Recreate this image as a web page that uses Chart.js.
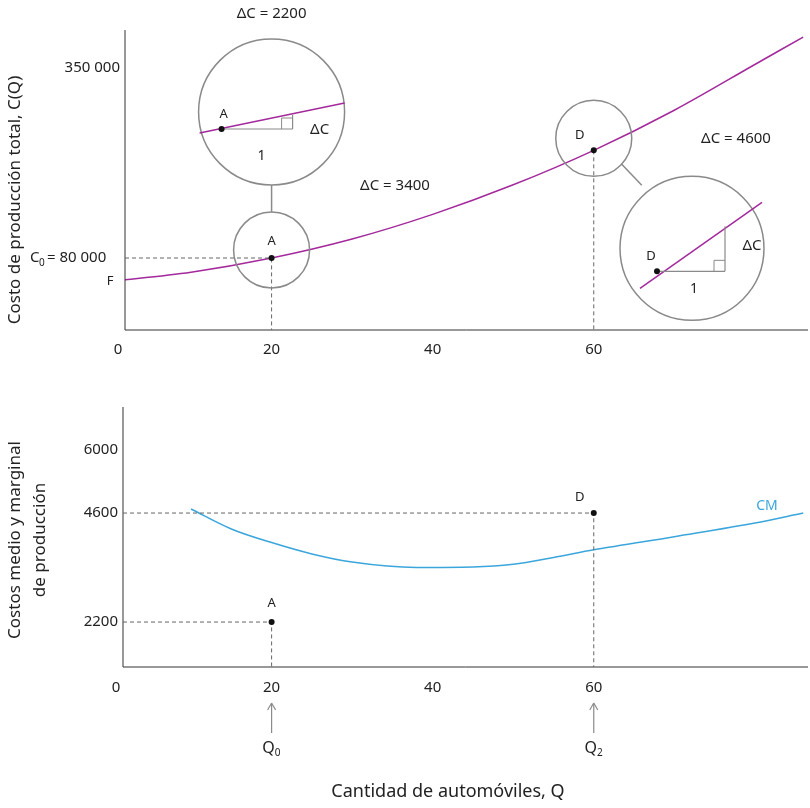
<!DOCTYPE html>
<html><head><meta charset="utf-8">
<script src="https://cdn.jsdelivr.net/npm/chart.js@4/dist/chart.umd.min.js"></script>
<style>body{margin:0;background:#fff}canvas{position:absolute;left:0}</style>
</head><body>
<canvas id="c1" width="810" height="400" style="top:0"></canvas>
<canvas id="c2" width="810" height="408" style="top:400px"></canvas>
<script>
const qTotal=[0,10,20,30,40,50,60,70,80,86];
const costTotal=[47000,59900,80000,107000,142000,184000,233000,290000,355000,394000];
const qAvg=[10,15,20,25,30,38,45,50,55,60,70,80,86];
const costAvg=[4690,4250,3950,3700,3520,3400,3410,3470,3620,3790,4080,4380,4600];
const pointsTop=[{q:20,c:80000,l:'A'},{q:60,c:233000,l:'D'}];
const pointsBottom=[{q:20,c:2200,l:'A'},{q:60,c:4600,l:'D'}];
const xTicks=[0,20,40,60];
const yTicksTop=[350000,80000];
const yTicksBottom=[6000,4600,2200];
const PURPLE='#a3299c',BLUE='#3ba6dc',GRAY='#8a8a8a',TXT='#222';
const F="'Noto Sans', sans-serif";
function txt(ctx,s,x,y,al,size){ctx.fillStyle=TXT;ctx.font=(size||15)+'px '+F;ctx.textAlign=al||'center';ctx.textBaseline='middle';ctx.fillText(s,x,y);}
function dashed(ctx,pts){ctx.save();ctx.strokeStyle='#666';ctx.lineWidth=1;ctx.setLineDash([4,3]);ctx.beginPath();ctx.moveTo(pts[0][0],pts[0][1]);for(let i=1;i<pts.length;i++)ctx.lineTo(pts[i][0],pts[i][1]);ctx.stroke();ctx.restore();}
function circ(ctx,x,y,r){ctx.save();ctx.strokeStyle=GRAY;ctx.lineWidth=1.5;ctx.beginPath();ctx.arc(x,y,r,0,Math.PI*2);ctx.stroke();ctx.restore();}
function line(ctx,a,b,c,w){ctx.save();ctx.strokeStyle=c;ctx.lineWidth=w||1.3;ctx.beginPath();ctx.moveTo(a[0],a[1]);ctx.lineTo(b[0],b[1]);ctx.stroke();ctx.restore();}
function dot(ctx,x,y){ctx.fillStyle='#111';ctx.beginPath();ctx.arc(x,y,3,0,Math.PI*2);ctx.fill();}
function axes(ctx,ch,ty){const a=ch.chartArea,xs=ch.scales.x;ctx.save();ctx.strokeStyle='#333';ctx.lineWidth=1;ctx.beginPath();ctx.moveTo(a.left,a.top);ctx.lineTo(a.left,a.bottom);ctx.lineTo(a.right,a.bottom);ctx.stroke();ctx.restore();
 xTicks.forEach(v=>{const x=v===0?a.left-7:xs.getPixelForValue(v);txt(ctx,String(v),x,a.bottom+ty);});}
const topPlugin={id:'top',afterDatasetsDraw(ch){const ctx=ch.ctx,a=ch.chartArea,xs=ch.scales.x,ys=ch.scales.y;
 axes(ctx,ch,20);
 txt(ctx,'350 000',a.left-5,ys.getPixelForValue(350000),'right');
 const ay=ys.getPixelForValue(80000),ax=xs.getPixelForValue(20);
 txt(ctx,'C',a.left-95,ay,'left');txt(ctx,'0',a.left-86,ay+5,'left',10);txt(ctx,'= 80 000',a.left-78,ay,'left');
 txt(ctx,'F',a.left-15,ys.getPixelForValue(costTotal[0]),'center',13);
 dashed(ctx,[[a.left,ay],[ax,ay],[ax,a.bottom]]);
 const dx=xs.getPixelForValue(60),dy=ys.getPixelForValue(233000);
 dashed(ctx,[[dx,dy],[dx,a.bottom]]);
 circ(ctx,ax,ay-8,38);line(ctx,[ax,ay-46],[ax,ay-73],GRAY,1.5);
 const bx=ax,by=ay-146;circ(ctx,bx,by,73);
 line(ctx,[bx-72,by+21],[bx+73,by-9],PURPLE,1.5);
 line(ctx,[bx-50,by+17],[bx+21,by+17],GRAY,1.2);line(ctx,[bx+21,by+17],[bx+21,by+3],GRAY,1.2);
 line(ctx,[bx+10,by+17],[bx+10,by+6],GRAY,1);line(ctx,[bx+10,by+6],[bx+21,by+6],GRAY,1);
 dot(ctx,bx-50,by+17);txt(ctx,'A',bx-48,by+2,'center',13);txt(ctx,'ΔC',bx+48,by+18);txt(ctx,'1',bx-10,by+44,'center',14);
 txt(ctx,'ΔC = 2200',bx,14);
 txt(ctx,'A',ax,ay-17,'center',13);
 txt(ctx,'ΔC = 3400',395,186);
 circ(ctx,dx,dy-12,38);line(ctx,[dx+28,dy+14],[dx+48,dy+35],GRAY,1.5);
 const ex=692,ey=dy+98;circ(ctx,ex,ey,72);
 line(ctx,[ex-52,ey+40],[ex+70,ey-46],PURPLE,1.5);
 line(ctx,[ex-35,ey+23],[ex+33,ey+23],GRAY,1.2);line(ctx,[ex+33,ey+23],[ex+33,ey-22],GRAY,1.2);
 line(ctx,[ex+22,ey+23],[ex+22,ey+12],GRAY,1);line(ctx,[ex+22,ey+12],[ex+33,ey+12],GRAY,1);
 dot(ctx,ex-35,ey+23);txt(ctx,'D',ex-41,ey+8,'center',13);txt(ctx,'ΔC',ex+60,ey-3);txt(ctx,'1',ex+2,ey+41,'center',14);
 txt(ctx,'ΔC = 4600',736,139);
 txt(ctx,'D',dx-14,dy-15,'center',13);
 pointsTop.forEach(p=>dot(ctx,xs.getPixelForValue(p.q),ys.getPixelForValue(p.c)));
 ctx.save();ctx.translate(15,200);ctx.rotate(-Math.PI/2);txt(ctx,'Costo de producción total, C(Q)',0,0,'center',17);ctx.restore();
}};
const botPlugin={id:'bot',afterDatasetsDraw(ch){const ctx=ch.ctx,a=ch.chartArea,xs=ch.scales.x,ys=ch.scales.y;
 axes(ctx,ch,21);
 yTicksBottom.forEach(v=>txt(ctx,String(v),a.left-5,ys.getPixelForValue(v),'right'));
 pointsBottom.forEach(p=>{const x=xs.getPixelForValue(p.q),y=ys.getPixelForValue(p.c);dashed(ctx,[[a.left,y],[x,y],[x,a.bottom]]);dot(ctx,x,y);});
 txt(ctx,'A',xs.getPixelForValue(20),ys.getPixelForValue(2200)-19,'center',13);
 txt(ctx,'D',xs.getPixelForValue(60)-14,ys.getPixelForValue(4600)-16,'center',13);
 ctx.fillStyle=BLUE;ctx.font='14px '+F;ctx.textAlign='center';ctx.fillText('CM',767,106);
 [[20,'Q','0'],[60,'Q','2']].forEach(([q,s,sub])=>{const x=xs.getPixelForValue(q);
  line(ctx,[x,333],[x,304],GRAY,1.2);line(ctx,[x-4,310],[x,303],GRAY,1.2);line(ctx,[x+4,310],[x,303],GRAY,1.2);
  txt(ctx,s,x-3,348,'center',16);txt(ctx,sub,x+6,353,'center',10);});
 txt(ctx,'Cantidad de automóviles, Q',448,392,'center',18);
 ctx.save();ctx.translate(15,140);ctx.rotate(-Math.PI/2);txt(ctx,'Costos medio y marginal',0,0,'center',17);txt(ctx,'de producción',0,25,'center',17);ctx.restore();
}};
const xMax=86.6;
new Chart(document.getElementById('c1'),{type:'line',
 data:{datasets:[{data:qTotal.map((q,i)=>({x:q,y:costTotal[i]})),borderColor:PURPLE,borderWidth:1.5,pointRadius:0,cubicInterpolationMode:'monotone'}]},
 options:{responsive:false,animation:false,layout:{padding:{left:125,right:2,top:30,bottom:70}},plugins:{legend:{display:false},tooltip:{enabled:false}},
 scales:{x:{type:'linear',min:1.8,max:xMax,display:false},y:{min:-22300,max:404000,display:false}}},plugins:[topPlugin]});
new Chart(document.getElementById('c2'),{type:'line',
 data:{datasets:[{data:qAvg.map((q,i)=>({x:q,y:costAvg[i]})),borderColor:BLUE,borderWidth:1.5,pointRadius:0,cubicInterpolationMode:'monotone'}]},
 options:{responsive:false,animation:false,layout:{padding:{left:123,right:2,top:7,bottom:141}},plugins:{legend:{display:false},tooltip:{enabled:false}},
 scales:{x:{type:'linear',min:1.55,max:xMax,display:false},y:{min:1210,max:6935,display:false}}},plugins:[botPlugin]});
</script></body></html>
